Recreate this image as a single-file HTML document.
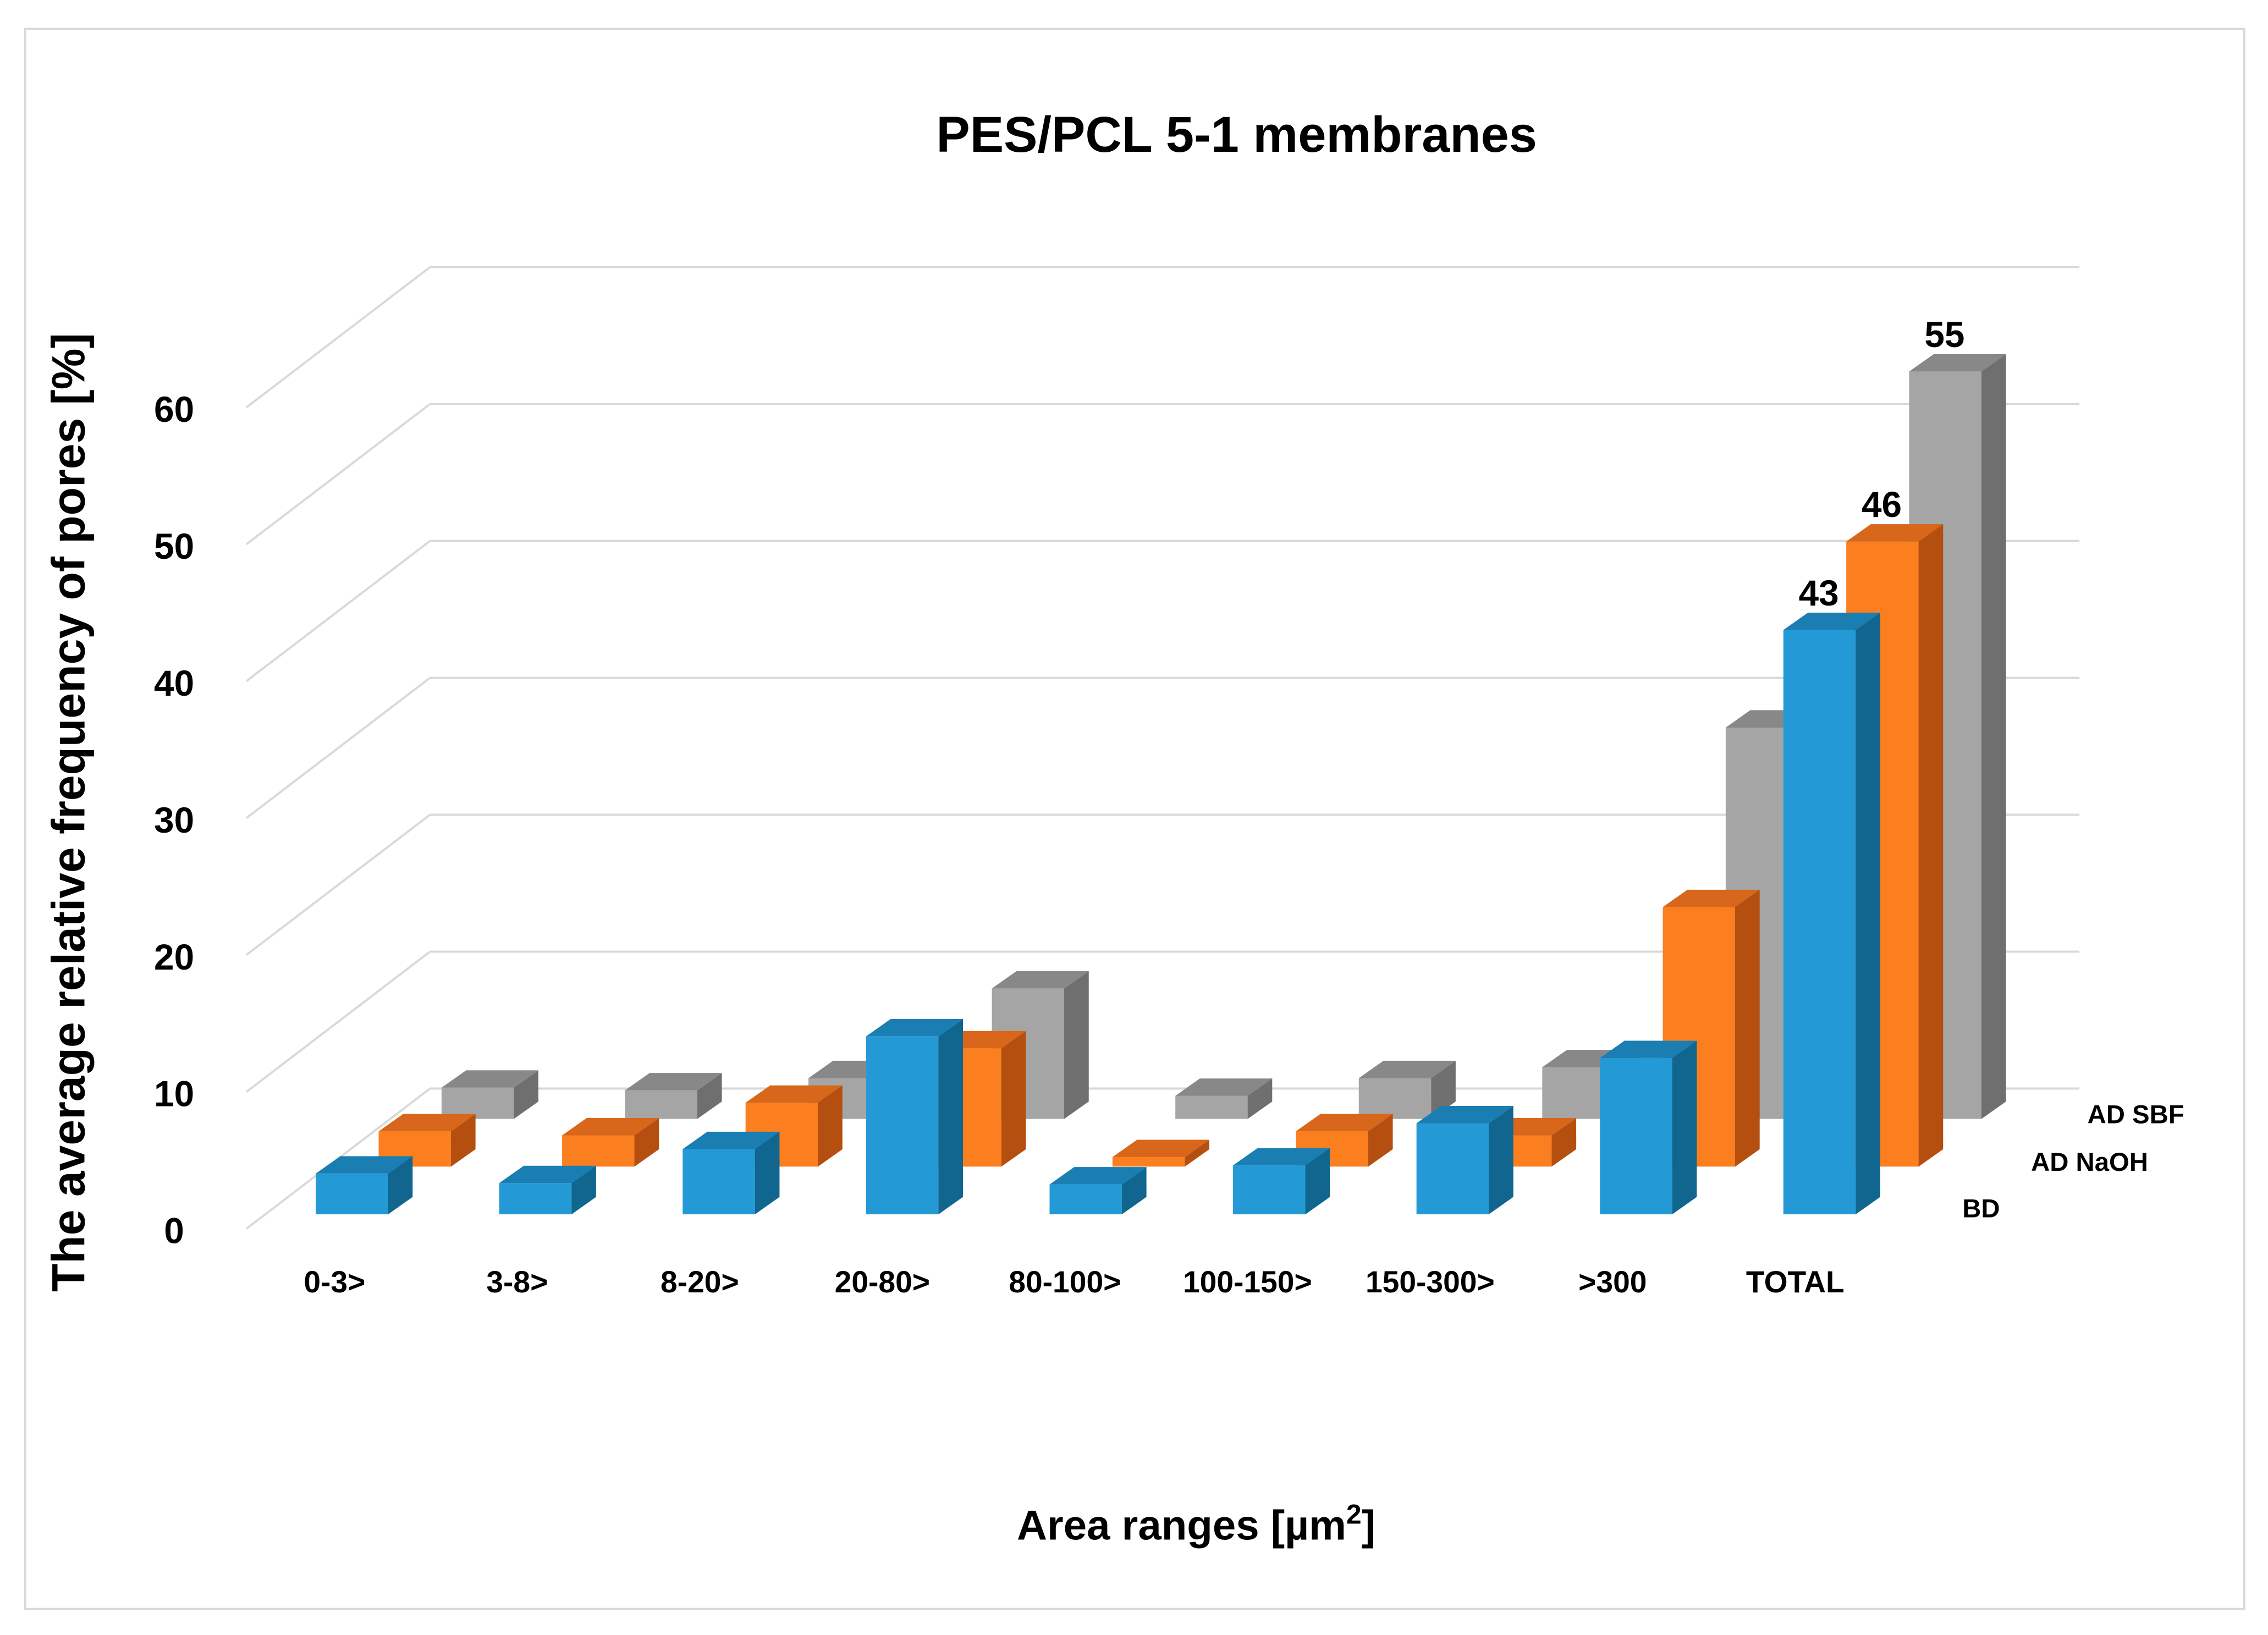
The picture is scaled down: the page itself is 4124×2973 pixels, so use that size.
<!DOCTYPE html>
<html><head><meta charset="utf-8"><style>
html,body{margin:0;padding:0;background:#fff}
svg{display:block}
text{font-family:"Liberation Sans",sans-serif;font-weight:bold;fill:#000}
</style></head><body>
<svg id="chart" width="4124" height="2973" viewBox="0 0 1568 1131" xmlns="http://www.w3.org/2000/svg">
<rect x="17" y="20" width="1535" height="1093" fill="#fff" stroke="#d9d9d9" stroke-width="1.5"/>
<text x="855" y="105" font-size="35" text-anchor="middle">PES/PCL 5-1 membranes</text>
<text transform="translate(58,562) rotate(-90)" font-size="32" text-anchor="middle">The average relative frequency of pores [%]</text>
<text x="827" y="1065" font-size="29" text-anchor="middle">Area ranges [µm<tspan font-size="19" dy="-11">2</tspan><tspan dy="11">]</tspan></text>
<g id="grid"></g>
<g id="yticks"></g>
<g id="bars"></g>
<g id="xlabels"></g>
<g id="vlabels"></g>
<text x="1370" y="842" font-size="18" text-anchor="middle">BD</text>
<text x="1445" y="810" font-size="18" text-anchor="middle">AD NaOH</text>
<text x="1477" y="777" font-size="18" text-anchor="middle">AD SBF</text>
</svg>
<script>
const categories = ["0-3>","3-8>","8-20>","20-80>","80-100>","100-150>","150-300>",">300","TOTAL"];
const bdValues   = [3.0,2.3,4.8,13.1,2.2,3.6,6.7,11.5,43];
const naohValues = [2.6,2.3,4.7,8.7,0.7,2.6,2.3,19.1,46];
const sbfValues  = [2.3,2.1,3.0,9.6,1.7,3.0,3.8,28.8,55];
const yTicks = [0,10,20,30,40,50,60];
const valueLabels = [{series:0,cat:8,text:"43"},{series:1,cat:8,text:"46"},{series:2,cat:8,text:"55"}];

const NS="http://www.w3.org/2000/svg";
const PX_PER_UNIT=9.4, BASE0=840, CAT0=218, CAT_STEP=126.9, ROW_DX=43.5, ROW_DY=-33, W=50, DX=17, DY=-12;
function xPos(i,row){return CAT0+CAT_STEP*i+ROW_DX*row;}
function baseY(row){return BASE0+ROW_DY*row;}
function yPos(v,row){return baseY(row)-v*PX_PER_UNIT;}
function el(tag,attrs,parent){const e=document.createElementNS(NS,tag);for(const k in attrs)e.setAttribute(k,attrs[k]);parent.appendChild(e);return e;}

const grid=document.getElementById('grid');
yTicks.forEach(t=>{
  const yb=753-t*9.47, yf=yb+97;
  const l1=el('line',{x1:297,y1:yb,x2:1438,y2:yb,stroke:'#d9d9d9','stroke-width':1.5},grid);
  
  
  const l2=el('line',{x1:170,y1:yf,x2:297,y2:yb,stroke:'#d9d9d9','stroke-width':1.5},grid);
  
  
  const tx=el('text',{x:120,y:yf+10,'font-size':25,'text-anchor':'middle'},document.getElementById('yticks'));
  tx.textContent=t;
  
  
});

const series=[
 {name:'ad-sbf',vals:sbfValues,row:2,front:'#a5a5a5',side:'#6f6f6f',top:'#888888'},
 {name:'ad-naoh',vals:naohValues,row:1,front:'#fb7f1f',side:'#b44f10',top:'#d8661b'},
 {name:'bd',vals:bdValues,row:0,front:'#239ad6',side:'#10668f',top:'#1a7eb2'}
];
const bars=document.getElementById('bars');
series.forEach(s=>{
  s.vals.forEach((v,i)=>{
    const x=xPos(i,s.row), b=baseY(s.row), t=yPos(v,s.row);
    const g=el('g',{},bars);
    
    
    el('rect',{x:x,y:t,width:W,height:b-t,fill:s.front},g);
    el('polygon',{points:`${x+W},${t} ${x+W+DX},${t+DY} ${x+W+DX},${b+DY} ${x+W},${b}`,fill:s.side},g);
    el('polygon',{points:`${x},${t} ${x+DX},${t+DY} ${x+W+DX},${t+DY} ${x+W},${t}`,fill:s.top},g);
  });
});

const xl=document.getElementById('xlabels');
categories.forEach((c,i)=>{
  const tx=el('text',{x:231+126.3*i,y:894,'font-size':21,'text-anchor':'middle'},xl);
  tx.textContent=c;
  
  
});

const vl=document.getElementById('vlabels');
const allVals=[bdValues,naohValues,sbfValues];
valueLabels.forEach(d=>{
  const v=allVals[d.series][d.cat];
  const tx=el('text',{x:xPos(d.cat,d.series)+W/2+DX/2-9,y:yPos(v,d.series)+DY-5,'font-size':25,'text-anchor':'middle'},vl);
  tx.textContent=d.text;
  
  
});
</script>
</body></html>
